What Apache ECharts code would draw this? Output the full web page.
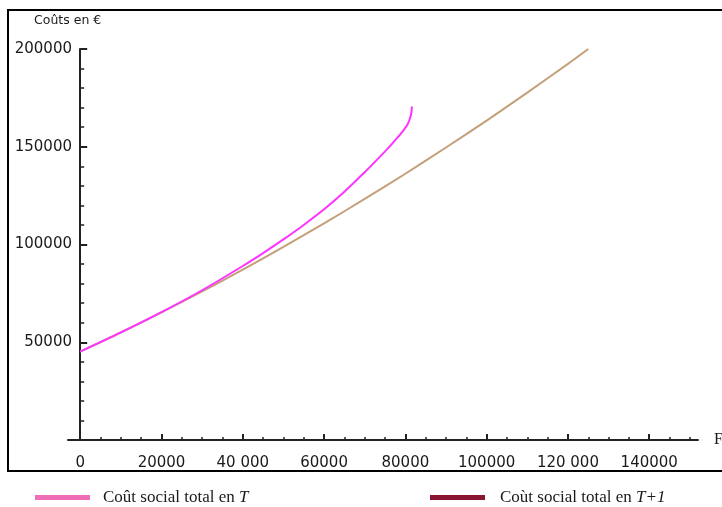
<!DOCTYPE html>
<html>
<head>
<meta charset="utf-8">
<script src="https://cdn.jsdelivr.net/npm/echarts@6/dist/echarts.min.js"></script>
<style>
html,body{margin:0;padding:0;background:#fff;}
#chart{width:722px;height:507px;}
</style>
</head>
<body>
<div id="chart"></div>
<script>
// ---- data ----
const seriesNames = ['Coût social total en T', 'Coût social total en T+1'];

const xT = [0, 10000, 20000, 30000, 40000, 45000, 50000, 55000, 60000, 65000, 70000, 73000, 76000, 78000, 79500, 80500, 81100, 81450, 81620];
const yT = [45200, 55000, 65400, 76600, 89000, 95600, 102600, 110000, 118000, 127000, 137000, 143300, 149800, 154500, 158300, 161200, 164300, 167000, 170600];

const xT1 = [0, 10000, 20000, 30000, 40000, 50000, 60000, 70000, 80000, 90000, 100000, 110000, 120000, 125000];
const yT1 = [45200, 55000, 65300, 76000, 87200, 98800, 110800, 123300, 136200, 149600, 163400, 177700, 192400, 200000];

const xTickValues = [0, 20000, 40000, 60000, 80000, 100000, 120000, 140000];
const xTickLabels = ['0', '20000', '40 000', '60000', '80000', '100000', '120 000', '140000'];
const xMinorTickValues = [5000, 10000, 15000, 25000, 30000, 35000, 45000, 50000, 55000, 65000, 70000, 75000,
  85000, 90000, 95000, 105000, 110000, 115000, 125000, 130000, 135000, 145000, 150000];

const yTickValues = [50000, 100000, 150000, 200000];
const yTickLabels = ['50000', '100000', '150000', '200000'];

const yAxisTitle = 'Coûts en €';
const xAxisTitle = 'F';

// ---- chart ----
const pairs = (xs, ys) => xs.map((x, i) => [x, ys[i]]);
const tickFont = 'DejaVu Sans';
const ink = '#1a1a1a';

const chart = echarts.init(document.getElementById('chart'), null, {renderer: 'canvas'});
chart.setOption({
  animation: false,
  backgroundColor: '#ffffff',
  title: {
    text: yAxisTitle,
    left: 34, top: 14, padding: 0,
    textStyle: {fontFamily: tickFont, fontSize: 12.5, fontWeight: 'normal', color: ink}
  },
  graphic: [{
    type: 'rect',
    shape: {x: 8, y: 10, width: 740, height: 461},
    style: {fill: 'none', stroke: '#000', lineWidth: 2},
    silent: true
  }],
  grid: {left: 68, right: 24, top: 49, bottom: 67, containLabel: false, outerBoundsMode: 'none'},
  xAxis: [{
    type: 'value', position: 'bottom',
    min: -3000, max: 152000,
    name: xAxisTitle, nameLocation: 'end', nameGap: 16,
    nameTextStyle: {fontFamily: 'Liberation Serif', fontSize: 16, color: ink},
    axisLine: {show: true, lineStyle: {color: '#222', width: 2}},
    axisTick: {show: true, inside: true, length: 6, customValues: xTickValues, lineStyle: {color: '#222', width: 2}},
    axisLabel: {
      show: true, margin: 16, customValues: xTickValues,
      fontFamily: tickFont, fontSize: 15, color: ink,
      formatter: v => { const i = xTickValues.indexOf(v); return i >= 0 ? xTickLabels[i] : ''; }
    },
    splitLine: {show: false}
  }, {
    type: 'value', position: 'bottom',
    min: -3000, max: 152000,
    axisLine: {show: false},
    axisTick: {show: true, inside: true, length: 3, customValues: xMinorTickValues, lineStyle: {color: '#222', width: 1.5}},
    axisLabel: {show: false},
    splitLine: {show: false}
  }],
  yAxis: {
    type: 'value',
    min: 0, max: 200000, interval: 50000,
    axisLine: {show: true, onZero: true, onZeroAxisIndex: 0, lineStyle: {color: '#222', width: 2}},
    axisTick: {show: true, inside: true, length: 7, lineStyle: {color: '#222', width: 2}},
    minorTick: {show: true, splitNumber: 5, length: 4, lineStyle: {color: '#222', width: 1.5}},
    axisLabel: {
      show: true, margin: -4,
      fontFamily: tickFont, fontSize: 15, color: ink,
      formatter: v => { const i = yTickValues.indexOf(v); return i >= 0 ? yTickLabels[i] : ''; }
    },
    splitLine: {show: false},
    minorSplitLine: {show: false}
  },
  legend: [{
    left: 30, top: 484,
    icon: 'rect', itemWidth: 55, itemHeight: 5,
    data: [{name: seriesNames[0], itemStyle: {color: '#f06eb5'}, lineStyle: {color: '#f06eb5'}}],
    formatter: () => '{n|Coût social total en }{i|T}',
    textStyle: {
      padding: [0, 0, 0, 8],
      rich: {
        n: {fontFamily: 'Liberation Serif', fontSize: 17, color: ink},
        i: {fontFamily: 'Liberation Serif', fontSize: 17, fontStyle: 'italic', color: ink}
      }
    }
  }, {
    left: 425, top: 484,
    icon: 'rect', itemWidth: 55, itemHeight: 5,
    data: [{name: seriesNames[1], itemStyle: {color: '#8a1530'}, lineStyle: {color: '#8a1530'}}],
    formatter: () => '{n|Coùt social total en }{i|T+1}',
    textStyle: {
      padding: [0, 0, 0, 10],
      rich: {
        n: {fontFamily: 'Liberation Serif', fontSize: 17, color: ink},
        i: {fontFamily: 'Liberation Serif', fontSize: 17, fontStyle: 'italic', color: ink}
      }
    }
  }],
  series: [{
    name: seriesNames[1], type: 'line',
    xAxisIndex: 0,
    data: pairs(xT1, yT1),
    smooth: 0.3,
    showSymbol: false,
    lineStyle: {color: '#c4a07a', width: 2},
    itemStyle: {color: '#c4a07a'},
    z: 2
  }, {
    name: seriesNames[0], type: 'line',
    xAxisIndex: 0,
    data: pairs(xT, yT),
    smooth: 0.3,
    showSymbol: false,
    lineStyle: {color: '#ff33ff', width: 2},
    itemStyle: {color: '#ff33ff'},
    z: 3
  }]
});
</script>
</body>
</html>
